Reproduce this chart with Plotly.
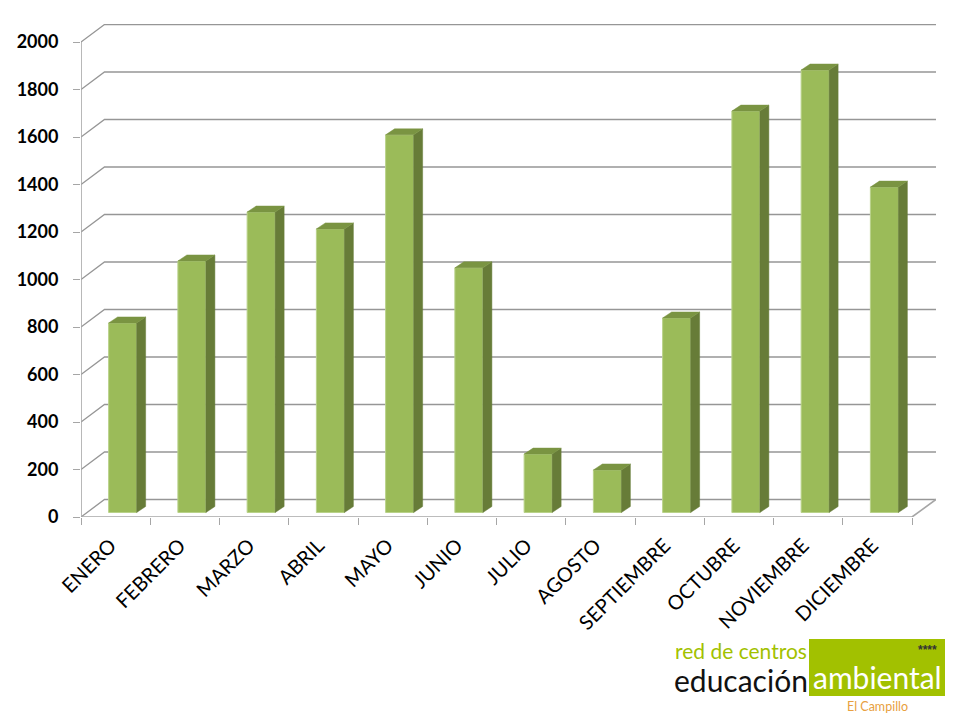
"""
Visitas por mes, barras con efecto 3D (red de centros, El Campillo).
"""
import plotly.graph_objects as go

C_BAR   = '#9bbb59'
C_SIDE  = '#677c38'
C_TOP   = '#7a9442'
C_EDGE  = '#b9d28a'
C_GRID  = '#969696'
C_AXIS  = '#a6a6a6'
C_LOGO  = '#a2c100'
C_LABEL = '#000000'

MONTHS = ['ENERO', 'FEBRERO', 'MARZO', 'ABRIL', 'MAYO', 'JUNIO', 'JULIO',
          'AGOSTO', 'SEPTIEMBRE', 'OCTUBRE', 'NOVIEMBRE', 'DICIEMBRE']
VALUES = [798, 1059, 1265, 1194, 1590, 1030, 246, 179, 819, 1690, 1863, 1370]
Y_TICKS = [0, 200, 400, 600, 800, 1000, 1200, 1400, 1600, 1800, 2000]

# pixel frame of the plot area
L, R, T, B = 81, 936, 24, 517
PX_X = 69.25    # px per category
PX_Y = 0.2375   # px per unit

# wall depth, full and for the bars
DEPTH_X = 23.5 / PX_X
DEPTH_Y = 17.5 / PX_Y
BAR_W = 28 / PX_X
BAR_X = 7 / PX_X
BAR_BASE = 4.5 / PX_Y
BAR_DX = 9 / PX_X
BAR_DY = 6 / PX_Y
LABEL_SHIFT = 5 / PX_X

n = len(MONTHS)
x_end = (R - L) / PX_X
y_end = (B - T) / PX_Y
centers = [i + 0.5 for i in range(n)]
edges = list(range(n + 1))


def _px(x, y):
    return (x - L) / (R - L), (B - y) / (B - T)


fig = go.Figure()

# walls and grid
gx, gy = [], []
for v in Y_TICKS:
    gx += [0, DEPTH_X, x_end, None]
    gy += [v, v + DEPTH_Y, v + DEPTH_Y, None]
fig.add_trace(go.Scatter(x=gx, y=gy, mode='lines', hoverinfo='skip',
                         line=dict(color=C_GRID, width=1.3)))
fig.add_trace(go.Scatter(
    x=[0, 0, None, 0, n, x_end],
    y=[Y_TICKS[-1], 0, None, 0, 0, DEPTH_Y],
    mode='lines', hoverinfo='skip', cliponaxis=False,
    line=dict(color=C_AXIS, width=1.6),
))

# bars sit on an overlaid axis pair so the grid stays behind them
# front faces
fig.add_trace(go.Bar(
    x=[c + BAR_X for c in centers], y=VALUES, base=BAR_BASE, width=BAR_W,
    marker=dict(color=C_BAR, line=dict(color=C_EDGE, width=1)),
    hovertemplate='%{y}<extra></extra>',
    xaxis='x2', yaxis='y2',
))

# side and top faces
sx, sy, tx, ty = [], [], [], []
for c, v in zip(centers, VALUES):
    x0 = c + BAR_X - BAR_W / 2
    x1 = c + BAR_X + BAR_W / 2
    y0 = BAR_BASE
    y1 = BAR_BASE + v
    sx += [x1, x1 + BAR_DX, x1 + BAR_DX, x1, x1, None]
    sy += [y0, y0 + BAR_DY, y1 + BAR_DY, y1, y0, None]
    tx += [x0, x0 + BAR_DX, x1 + BAR_DX, x1, x0, None]
    ty += [y1, y1 + BAR_DY, y1 + BAR_DY, y1, y1, None]
fig.add_trace(go.Scatter(x=sx, y=sy, mode='lines', fill='toself', fillcolor=C_SIDE,
                         line=dict(color=C_SIDE, width=0.5), hoverinfo='skip',
                         xaxis='x2', yaxis='y2'))
fig.add_trace(go.Scatter(x=tx, y=ty, mode='lines', fill='toself', fillcolor=C_TOP,
                         line=dict(color=C_TOP, width=0.5), hoverinfo='skip',
                         xaxis='x2', yaxis='y2'))

# logo
x0, y1 = _px(809, 639)
x1, y0 = _px(945, 696)
fig.add_shape(type='rect', xref='paper', yref='paper', x0=x0, x1=x1, y0=y0, y1=y1,
              fillcolor=C_LOGO, line=dict(width=0))
for text, px, py, size, color, family in [
    ('red de centros', 741, 650, 21, C_LOGO, 'Lato'),
    ('educación', 741, 680, 30, '#111111', 'Lato'),
    ('ambiental', 877, 677, 30, '#ffffff', 'Lato'),
    ('El Campillo', 877, 706, 12.5, '#e8a040', 'Lato'),
    ('<b>****</b>', 927, 650, 12, '#333333', 'Liberation Sans'),
]:
    ax, ay = _px(px, py)
    fig.add_annotation(xref='paper', yref='paper', x=ax, y=ay, text=text, showarrow=False,
                       xanchor='center', yanchor='middle',
                       font=dict(size=size, color=color, family=family))

fig.update_layout(
    width=960, height=720,
    paper_bgcolor='#ffffff', plot_bgcolor='#ffffff',
    margin=dict(l=L, r=960 - R, t=T, b=720 - B),
    showlegend=False,
    font=dict(family='Lato, sans-serif', color=C_LABEL),
    xaxis=dict(
        range=[0, x_end], showgrid=False, zeroline=False, showline=False,
        tickmode='array', tickvals=[c - LABEL_SHIFT for c in centers], ticktext=MONTHS,
        tickangle=-45, ticks='', tickfont=dict(size=20), ticklabelstandoff=12,
        minor=dict(tickmode='array', tickvals=edges, ticks='outside', ticklen=7,
                   tickcolor=C_AXIS, tickwidth=1.4, showgrid=False),
    ),
    yaxis=dict(
        range=[0, y_end], showgrid=False, zeroline=False, showline=False,
        tickmode='array', tickvals=Y_TICKS, ticks='outside', ticklen=7,
        tickcolor=C_AXIS, tickwidth=1.2, ticklabelstandoff=11,
        tickfont=dict(size=18, family='Lato', weight='bold'),
    ),
    xaxis2=dict(range=[0, x_end], overlaying='x', visible=False),
    yaxis2=dict(range=[0, y_end], overlaying='y', visible=False),
)

fig.write_html("out.html", config=dict(displayModeBar=False),
               post_script="document.body.style.margin='0'")
